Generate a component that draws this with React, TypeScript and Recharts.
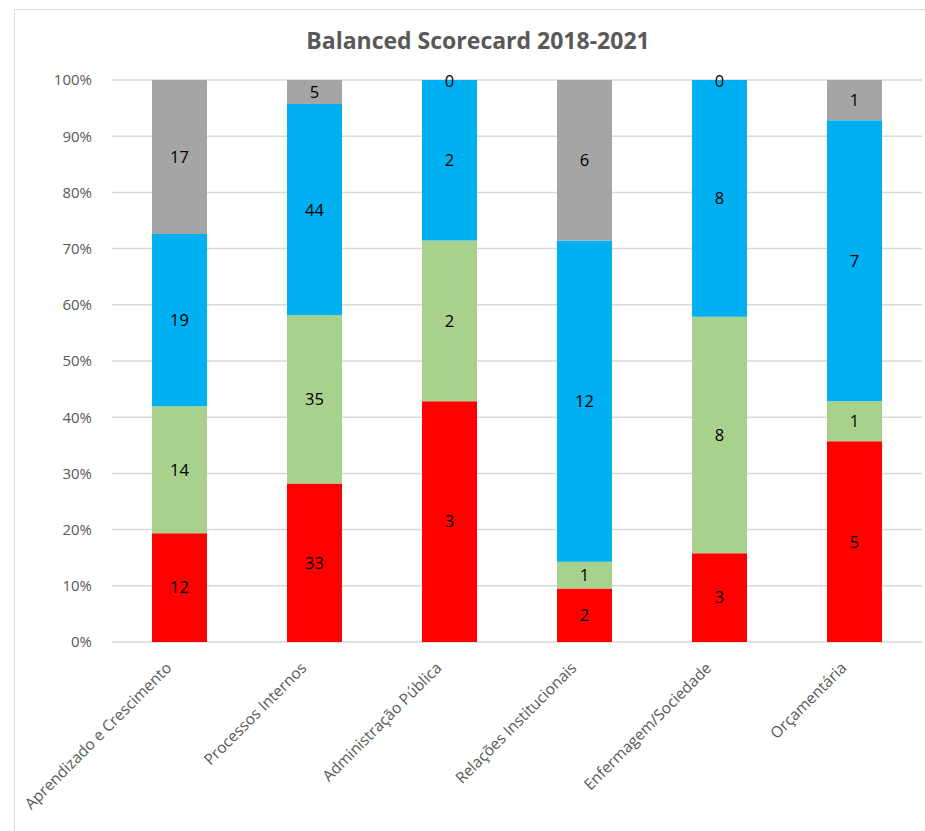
import React from 'react';
import { BarChart, Bar, XAxis, YAxis, CartesianGrid, LabelList } from 'recharts';

const categories = [
  'Aprendizado e Crescimento',
  'Processos Internos',
  'Administração Pública',
  'Relações Institucionais',
  'Enfermagem/Sociedade',
  'Orçamentária',
];
const redValues = [12, 33, 3, 2, 3, 5];
const greenValues = [14, 35, 2, 1, 8, 1];
const blueValues = [19, 44, 2, 12, 8, 7];
const grayValues = [17, 5, 0, 6, 0, 1];
const yTicks = [0, 0.1, 0.2, 0.3, 0.4, 0.5, 0.6, 0.7, 0.8, 0.9, 1];
const title = 'Balanced Scorecard 2018-2021';

const data = categories.map((name, i) => ({
  name,
  red: redValues[i],
  green: greenValues[i],
  blue: blueValues[i],
  gray: grayValues[i],
}));

const FONT = '"Open Sans", "Liberation Sans", sans-serif';

const CategoryTick = (props: any) => {
  const { x, y, payload } = props;
  return (
    <g transform={`translate(${x - 7},${y + 19})`}>
      <text
        x={0}
        y={0}
        textAnchor="end"
        transform="rotate(-45)"
        fill="#595959"
        fontSize={15.5}
        fontFamily={FONT}
      >
        {payload.value}
      </text>
    </g>
  );
};

const labelProps = {
  position: 'center' as const,
  fill: '#000000',
  fontSize: 16.5,
  fontFamily: FONT,
};

// Renders the gray value at the top of the blue segment when the gray segment is empty (zero height)
const ZeroTopLabel = (props: any) => {
  const { x, y, width, value } = props;
  if (value !== 0) return null;
  return (
    <text
      x={Number(x) + Number(width) / 2}
      y={Number(y)}
      textAnchor="middle"
      dominantBaseline="central"
      fill="#000000"
      fontSize={16.5}
      fontFamily={FONT}
    >
      {value}
    </text>
  );
};

export default function App() {
  return (
    <div style={{ position: 'absolute', left: 0, top: 0, width: 925, height: 831, overflow: 'hidden', background: '#fff' }}>
      <div style={{ position: 'absolute', left: 14, top: 9, width: 1000, height: 1000, border: '1px solid #D9D9D9', boxSizing: 'border-box' }} />
      <div
        style={{
          position: 'absolute',
          left: 14,
          width: 928,
          top: 24,
          textAlign: 'center',
          fontFamily: FONT,
          fontWeight: 'bold',
          fontSize: 23,
          lineHeight: '32px',
          color: '#595959',
        }}
      >
        {title}
      </div>
      <div style={{ position: 'absolute', left: 0, top: 0 }}>
        <BarChart
          width={925}
          height={831}
          data={data}
          stackOffset="expand"
          margin={{ top: 80, right: 3, bottom: 0, left: 0 }}
          barSize={55}
        >
          <CartesianGrid vertical={false} stroke="#D9D9D9" strokeWidth={1.5} />
          <XAxis
            dataKey="name"
            axisLine={false}
            tickLine={false}
            height={189}
            interval={0}
            tick={<CategoryTick />}
          />
          <YAxis
            width={112}
            domain={[0, 1]}
            ticks={yTicks}
            axisLine={false}
            tickLine={false}
            tickMargin={14}
            tickFormatter={(v: number) => `${Math.round(v * 100)}%`}
            tick={{ fill: '#595959', fontSize: 15, fontFamily: FONT }}
          />
          <Bar dataKey="red" stackId="a" fill="#FF0000" isAnimationActive={false}>
            <LabelList dataKey="red" {...labelProps} />
          </Bar>
          <Bar dataKey="green" stackId="a" fill="#A9D18E" isAnimationActive={false}>
            <LabelList dataKey="green" {...labelProps} />
          </Bar>
          <Bar dataKey="blue" stackId="a" fill="#00B0F0" isAnimationActive={false}>
            <LabelList dataKey="blue" {...labelProps} />
            <LabelList dataKey="gray" content={<ZeroTopLabel />} />
          </Bar>
          <Bar dataKey="gray" stackId="a" fill="#A5A5A5" isAnimationActive={false}>
            <LabelList dataKey="gray" {...labelProps} />
          </Bar>
        </BarChart>
      </div>
    </div>
  );
}
